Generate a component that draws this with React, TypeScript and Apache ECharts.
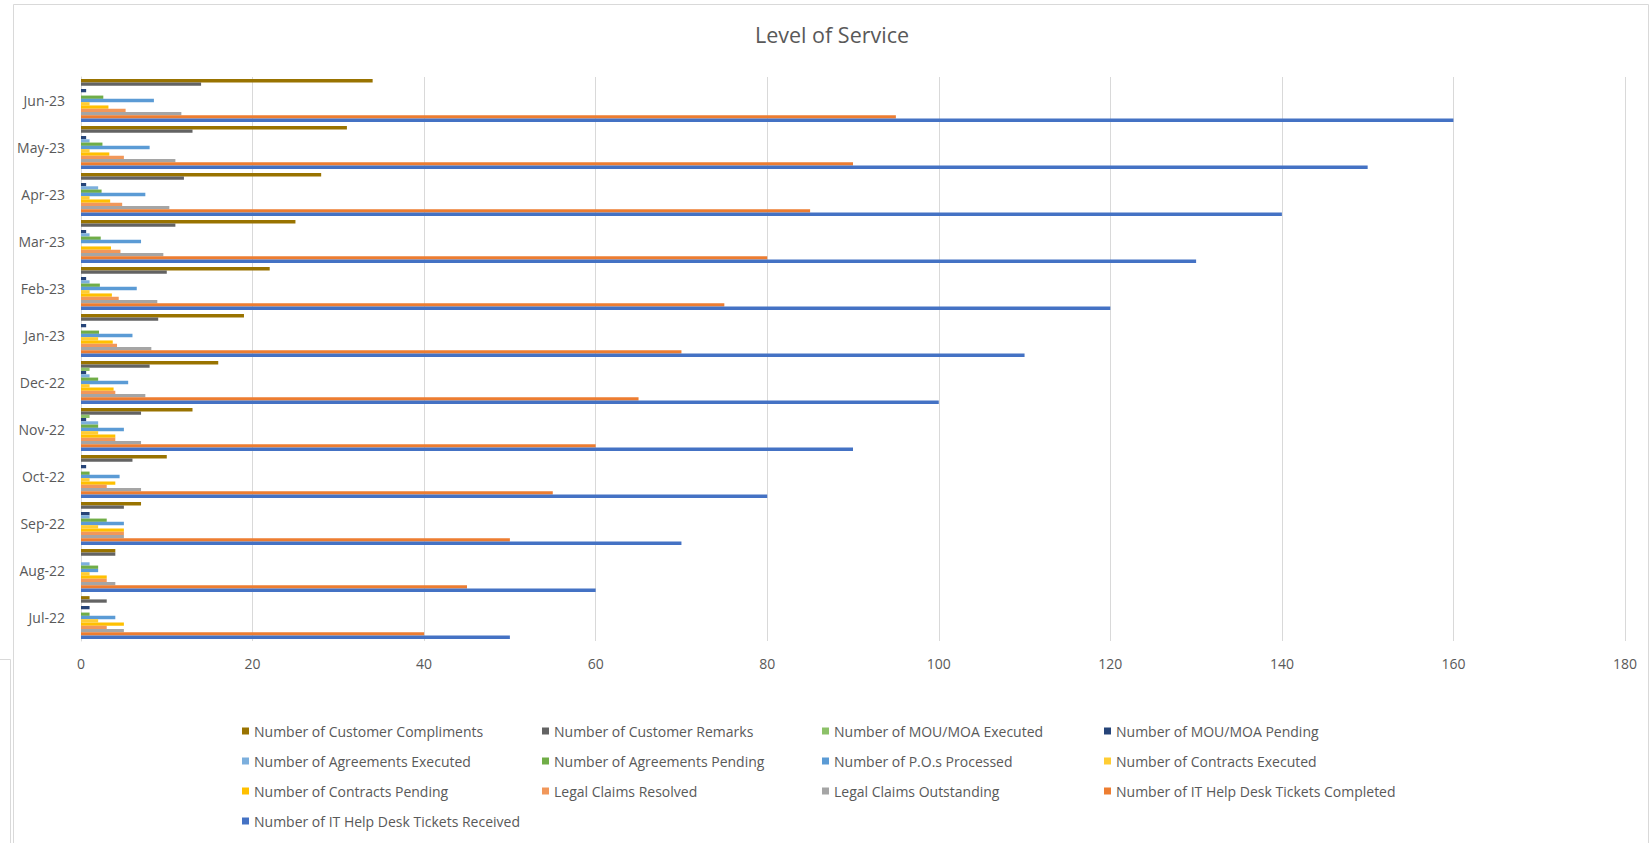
import React, { useEffect, useRef } from "react";
import * as echarts from "echarts";

const categories = ["Jul-22", "Aug-22", "Sep-22", "Oct-22", "Nov-22", "Dec-22", "Jan-23", "Feb-23", "Mar-23", "Apr-23", "May-23", "Jun-23"];

const customerCompliments = [1, 4, 7, 10, 13, 16, 19, 22, 25, 28, 31, 34];
const customerRemarks = [3, 4, 5, 6, 7, 8, 9, 10, 11, 12, 13, 14];
const mouExecuted = [0, 0, 0, 0, 1, 1, 0, 0, 0, 0, 0, 0];
const mouPending = [1, 0, 1, 0.6, 0.6, 0.6, 0.6, 0.6, 0.6, 0.6, 0.6, 0.6];
const agreementsExecuted = [0, 1, 1, 0, 2, 1, 0, 1, 1, 2, 1, 0];
const agreementsPending = [1, 2, 3, 1, 2, 2, 2.1, 2.2, 2.3, 2.4, 2.5, 2.6];
const posProcessed = [4, 2, 5, 4.5, 5, 5.5, 6, 6.5, 7, 7.5, 8, 8.5];
const contractsExecuted = [2, 1, 2, 1, 2, 1, 2, 1, 0, 1, 1, 1];
const contractsPending = [5, 3, 5, 4, 4, 3.8, 3.7, 3.6, 3.5, 3.4, 3.3, 3.2];
const legalResolved = [3, 3, 5, 3, 4, 4, 4.2, 4.4, 4.6, 4.8, 5, 5.2];
const legalOutstanding = [5, 4, 5, 7, 7, 7.5, 8.2, 8.9, 9.6, 10.3, 11, 11.7];
const itCompleted = [40, 45, 50, 55, 60, 65, 70, 75, 80, 85, 90, 95];
const itReceived = [50, 60, 70, 80, 90, 100, 110, 120, 130, 140, 150, 160];

const xTicks = { min: 0, max: 180, interval: 20 };

const seriesDefs = [
  { name: "Number of Customer Compliments", data: customerCompliments, color: "#997300" },
  { name: "Number of Customer Remarks", data: customerRemarks, color: "#636363" },
  { name: "Number of MOU/MOA Executed", data: mouExecuted, color: "#8CC168" },
  { name: "Number of MOU/MOA Pending", data: mouPending, color: "#264478" },
  { name: "Number of Agreements Executed", data: agreementsExecuted, color: "#7CAFDD" },
  { name: "Number of Agreements Pending", data: agreementsPending, color: "#70AD47" },
  { name: "Number of P.O.s Processed", data: posProcessed, color: "#5B9BD5" },
  { name: "Number of Contracts Executed", data: contractsExecuted, color: "#FFCD33" },
  { name: "Number of Contracts Pending", data: contractsPending, color: "#FFC000" },
  { name: "Legal Claims Resolved", data: legalResolved, color: "#F1975A" },
  { name: "Legal Claims Outstanding", data: legalOutstanding, color: "#A5A5A5" },
  { name: "Number of IT Help Desk Tickets Completed", data: itCompleted, color: "#ED7D31" },
  { name: "Number of IT Help Desk Tickets Received", data: itReceived, color: "#4472C4" },
];

const legendColumns = [
  [0, 4, 8, 12],
  [1, 5, 9],
  [2, 6, 10],
  [3, 7, 11],
];
const legendLefts = [242, 542, 822, 1104];

const FONT = "'Open Sans', 'Noto Sans', sans-serif";

export default function App() {
  const ref = useRef<HTMLDivElement>(null);

  useEffect(() => {
    if (!ref.current) return;
    const chart = echarts.init(ref.current, undefined, { renderer: "svg" });
    const option: any = {
      animation: false,
      backgroundColor: "#ffffff",
      title: {
        text: "Level of Service",
        left: 755,
        top: 23,
        padding: 0,
        textStyle: { fontFamily: FONT, fontSize: 21.5, fontWeight: "normal", color: "#595959" },
      },
      grid: { left: 81, right: 27, top: 77, bottom: 202, containLabel: false },
      xAxis: {
        type: "value",
        min: xTicks.min,
        max: xTicks.max,
        interval: xTicks.interval,
        axisLine: { show: false },
        axisTick: { show: false },
        axisLabel: { color: "#595959", fontFamily: FONT, fontSize: 14, margin: 15 },
        splitLine: { show: true, lineStyle: { color: "#D9D9D9", width: 1 } },
      },
      yAxis: {
        type: "category",
        data: categories,
        axisLine: { show: true, lineStyle: { color: "#D9D9D9", width: 1 } },
        axisTick: { show: false },
        axisLabel: { color: "#595959", fontFamily: FONT, fontSize: 14, margin: 16 },
        splitLine: { show: false },
      },
      legend: legendColumns.map((col, i) => ({
        orient: "vertical",
        left: legendLefts[i],
        top: 723,
        padding: 0,
        itemGap: 14,
        itemWidth: 7,
        itemHeight: 7,
        icon: "rect",
        selectedMode: false,
        textStyle: { fontFamily: FONT, fontSize: 14, color: "#595959", lineHeight: 16 },
        data: col.map((k) => seriesDefs[k].name),
      })),
      series: seriesDefs.map((s) => ({
        name: s.name,
        type: "bar",
        data: s.data,
        barGap: "0%",
        barCategoryGap: "9%",
        itemStyle: { color: s.color },
      })),
      graphic: [
        {
          type: "rect",
          shape: { x: 13.5, y: 4.5, width: 1635, height: 900 },
          style: { fill: "none", stroke: "#D9D9D9", lineWidth: 1 },
          silent: true,
        },
        {
          type: "polyline",
          shape: { points: [[0, 659.5], [10.5, 659.5], [10.5, 843]] },
          style: { fill: "none", stroke: "#D9D9D9", lineWidth: 1 },
          silent: true,
        },
      ],
    };
    chart.setOption(option);
    return () => chart.dispose();
  }, []);

  return (
    <div
      ref={ref}
      style={{ position: "absolute", left: 0, top: 0, width: 1652, height: 843 }}
    />
  );
}
